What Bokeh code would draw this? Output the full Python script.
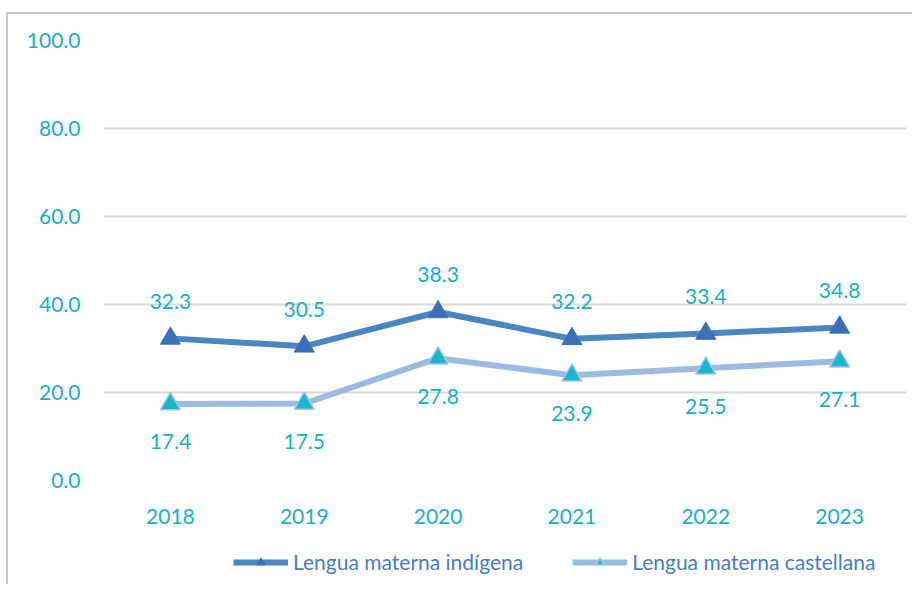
from bokeh.plotting import figure
from bokeh.layouts import column
from bokeh.models import FactorRange, Range1d, Legend, LegendItem, ColumnDataSource, FixedTicker, CustomJSTickFormatter
from bokeh.embed import file_html
from bokeh.resources import INLINE
from bokeh.core.properties import value

years = ["2018", "2019", "2020", "2021", "2022", "2023"]
indigena = [32.3, 30.5, 38.3, 32.2, 33.4, 34.8]
castellana = [17.4, 17.5, 27.8, 23.9, 25.5, 27.1]
y_ticks = [0, 20, 40, 60, 80, 100]
series_names = ["Lengua materna indígena", "Lengua materna castellana"]
labels_ind = ["%.1f" % v for v in indigena]
labels_cas = ["%.1f" % v for v in castellana]

FONT = "Lato"
CYAN = "#17AFC9"
FS = "21px"
C1_LINE, C1_MARK, C1_EDGE = "#4A86BF", "#3B6FB6", "#3B6FB6"
C2_LINE, C2_MARK, C2_EDGE = "#9DBAE0", "#1BB6CC", "#A9C3E6"

p = figure(x_range=FactorRange(*years, range_padding=0), y_range=Range1d(0, 100),
           width=906, height=526,
           output_backend="svg", toolbar_location=None,
           min_border_left=95, min_border_right=8, min_border_top=26, min_border_bottom=60)
p.styles = {"margin-left": "6px", "margin-top": "12px",
            "border-left": "2px solid #c6c6c6", "border-top": "2px solid #c6c6c6"}
p.outline_line_color = None
p.xgrid.grid_line_color = None
p.ygrid.grid_line_color = "#d9d9d9"
p.ygrid.grid_line_width = 2
p.yaxis.ticker = FixedTicker(ticks=y_ticks)
p.yaxis.formatter = CustomJSTickFormatter(code="return tick.toFixed(1);")
for ax in (p.xaxis, p.yaxis):
    ax.axis_line_color = None
    ax.major_tick_line_color = None
    ax.minor_tick_line_color = None
    ax.major_label_text_color = CYAN
    ax.major_label_text_font = FONT
    ax.major_label_text_font_size = FS
p.yaxis.major_label_standoff = 17
p.xaxis.major_label_standoff = 22

src = ColumnDataSource(dict(x=years, ind=indigena, cas=castellana, li=labels_ind, lc=labels_cas))

p.line("x", "ind", source=src, line_color=C1_LINE, line_width=6)
p.scatter("x", "ind", source=src, marker="triangle", size=20, fill_color=C1_MARK,
          line_color=C1_EDGE, line_width=1)
p.line("x", "cas", source=src, line_color=C2_LINE, line_width=6)
p.scatter("x", "cas", source=src, marker="triangle", size=20, fill_color=C2_MARK,
          line_color=C2_EDGE, line_width=1.5)

p.text("x", "ind", text="li", source=src, y_offset=-37, text_align="center", text_baseline="middle",
       text_color=CYAN, text_font=value(FONT), text_font_size=FS)
p.text("x", "cas", text="lc", source=src, y_offset=38, text_align="center", text_baseline="middle",
       text_color=CYAN, text_font=value(FONT), text_font_size=FS)

# legend strip below the chart (proxy renderers sit outside the strip's visible range)
lf = figure(width=906, height=46, x_range=Range1d(0, 1), y_range=Range1d(0, 1),
            output_backend="svg", toolbar_location=None, x_axis_type=None, y_axis_type=None,
            min_border=0)
lf.styles = {"margin-left": "6px", "border-left": "2px solid #c6c6c6"}
lf.outline_line_color = None
lf.grid.visible = False
proxy = ColumnDataSource(dict(x=[5, 6], y=[5, 6]))
lg1 = lf.line("x", "y", source=proxy, line_color=C1_LINE, line_width=6)
lm1 = lf.scatter("x", "y", source=proxy, marker="triangle", size=20, fill_color=C1_MARK,
                 line_color=C1_EDGE, line_width=1)
lg2 = lf.line("x", "y", source=proxy, line_color=C2_LINE, line_width=6)
lm2 = lf.scatter("x", "y", source=proxy, marker="triangle", size=20, fill_color=C2_MARK,
                 line_color=C2_EDGE, line_width=1.5)

legend = Legend(items=[LegendItem(label=series_names[0], renderers=[lg1, lm1]),
                       LegendItem(label=series_names[1], renderers=[lg2, lm2])],
                orientation="horizontal", location=(130, 10),
                label_text_color="#4A7CC0", label_text_font=FONT, label_text_font_size=FS,
                glyph_width=55, glyph_height=20, label_standoff=5, spacing=49,
                border_line_color=None, background_fill_alpha=0, margin=0, padding=0)
lf.add_layout(legend, "center")

layout = column(p, lf, spacing=0)
open("out.html", "w").write(file_html(layout, INLINE))
